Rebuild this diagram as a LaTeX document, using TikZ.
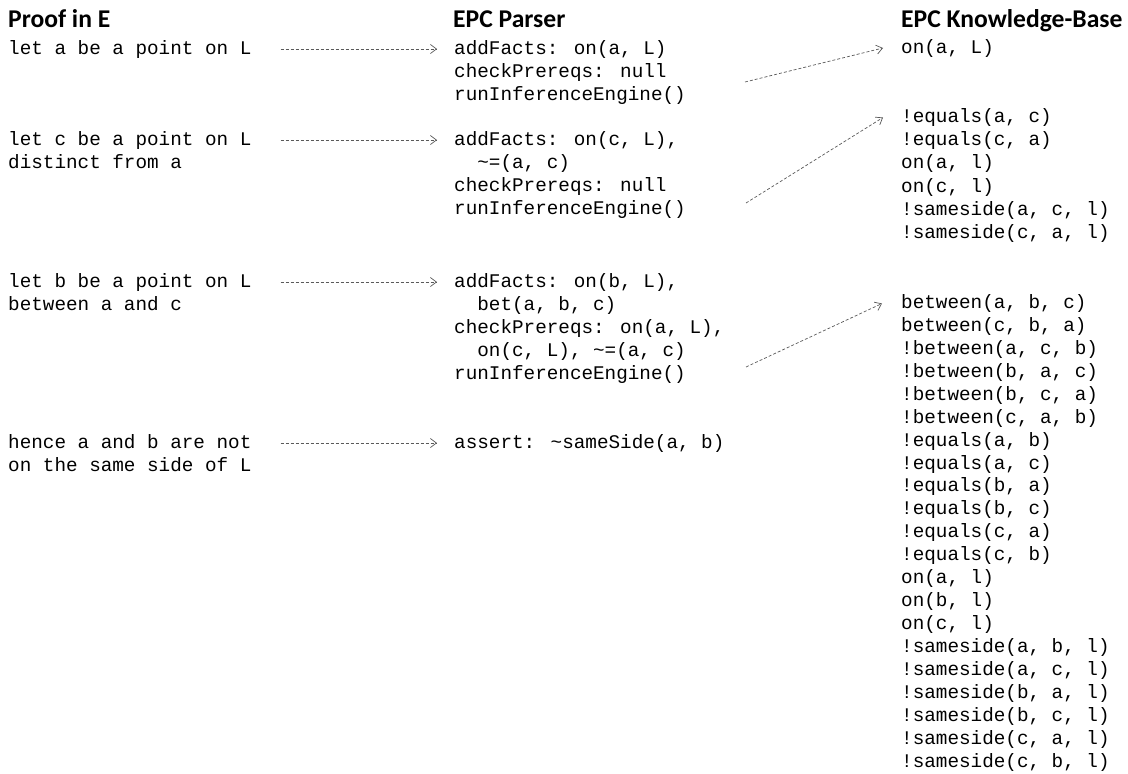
\documentclass[tikz,border=0pt]{standalone}
\usepackage{fontspec}
\setmainfont{Liberation Serif}
\newfontfamily\monof{Liberation Mono}
\newfontfamily\hdrf{Carlito}
\usetikzlibrary{arrows.meta}
\begin{document}
\begin{tikzpicture}[x=1pt,y=-1pt,
  mono/.style={font=\monof\fontsize{19.3}{23}\selectfont, inner sep=0pt, anchor=base west, text height=13pt, text depth=3pt},
  hdr/.style={font=\hdrf\bfseries\fontsize{25.6}{30}\selectfont, inner sep=0pt, anchor=base west},
  arr/.style={draw=black!65, line width=0.7pt, dash pattern=on 3pt off 2pt, -{Straight Barb[length=6pt,width=9pt]}}]
\useasboundingbox (0,0) rectangle (1128,774);
% headers
\node[hdr] (h1) at (8,27) {Proof in E};
\node[hdr] (h2) at (453,27) {EPC Parser};
\node[hdr] (h3) at (901,27) {EPC Knowledge-Base};
% column 1
\node[mono] (e1) at (8,54) {let a be a point on L};
\node[mono] (e2) at (8,145) {let c be a point on L};
\node[mono] (e2b) at (8,168) {distinct from a};
\node[mono] (e3) at (8,287) {let b be a point on L};
\node[mono] (e3b) at (8,310) {between a and c};
\node[mono] (e4) at (8,448) {hence a and b are not};
\node[mono] (e4b) at (8,471) {on the same side of L};
% column 2
\node[mono] (p1) at (454,54) {addFacts: on(a, L)};
\node[mono] (p1b) at (454,77) {checkPrereqs: null};
\node[mono] (p1c) at (454,100) {runInferenceEngine()};
\node[mono] (p2) at (454,145) {addFacts: on(c, L),};
\node[mono] (p2b) at (454,168) {\phantom{xx}\textasciitilde=(a, c)};
\node[mono] (p2c) at (454,191) {checkPrereqs: null};
\node[mono] (p2d) at (454,214) {runInferenceEngine()};
\node[mono] (p3) at (454,287) {addFacts: on(b, L),};
\node[mono] (p3b) at (454,310) {\phantom{xx}bet(a, b, c)};
\node[mono] (p3c) at (454,333) {checkPrereqs: on(a, L),};
\node[mono] (p3d) at (454,356) {\phantom{xx}on(c, L), \textasciitilde=(a, c)};
\node[mono] (p3e) at (454,379) {runInferenceEngine()};
\node[mono] (p4) at (454,448) {assert: \textasciitilde sameSide(a, b)};
% column 3
\node[mono] (k0) at (901,53) {on(a, L)};
\foreach \t [count=\i from 0] in {{!equals(a, c)},{!equals(c, a)},{on(a, l)},{on(c, l)},{!sameside(a, c, l)},{!sameside(c, a, l)}}
  {\node[mono] (ka\i) at (901,{122.5+23.2*\i}) {\t};}
\foreach \t [count=\i from 0] in {{between(a, b, c)},{between(c, b, a)},{!between(a, c, b)},{!between(b, a, c)},{!between(b, c, a)},{!between(c, a, b)},{!equals(a, b)},{!equals(a, c)},{!equals(b, a)},{!equals(b, c)},{!equals(c, a)},{!equals(c, b)},{on(a, l)},{on(b, l)},{on(c, l)},{!sameside(a, b, l)},{!sameside(a, c, l)},{!sameside(b, a, l)},{!sameside(b, c, l)},{!sameside(c, a, l)},{!sameside(c, b, l)}}
  {\node[mono] (kc\i) at (901,{308.5+22.93*\i}) {\t};}
% arrows
\draw[arr] ([xshift=29pt]e1.east) -- ([xshift=-17pt]p1.west);
\draw[arr] ([xshift=29pt]e2.east) -- ([xshift=-17pt]p2.west);
\draw[arr] ([xshift=29pt]e3.east) -- ([xshift=-17pt]p3.west);
\draw[arr] ([xshift=29pt]e4.east) -- ([xshift=-17pt]p4.west);
\coordinate (s1) at (745,82);
\coordinate (s2) at (746,203);
\coordinate (s3) at (746,367);
\draw[arr] (s1) -- ([xshift=-18pt]k0.west);
\draw[arr] (s2) -- ([xshift=-18pt]ka0.west);
\draw[arr] (s3) -- ([xshift=-19pt]kc0.west);
\end{tikzpicture}
\end{document}
